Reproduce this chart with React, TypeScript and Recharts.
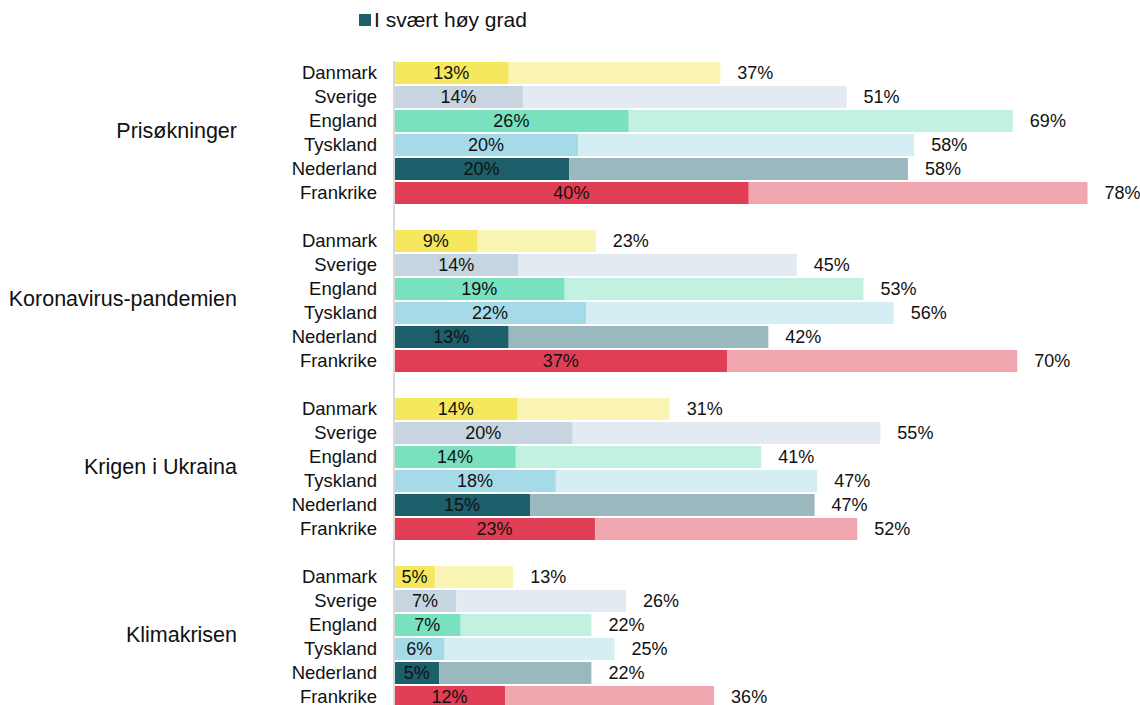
import React from 'react';
import { BarChart, Bar, XAxis, YAxis, Cell, LabelList, Legend } from 'recharts';

// ---- Data ----
const groups = ['Prisøkninger', 'Koronavirus-pandemien', 'Krigen i Ukraina', 'Klimakrisen'];
const countries = ['Danmark', 'Sverige', 'England', 'Tyskland', 'Nederland', 'Frankrike'];

// "I svært høy grad" share (bar length) per group, country order as above
const highPrisokninger = [12.9, 14.5, 26.4, 20.7, 19.7, 39.9];
const highKorona = [9.4, 14.0, 19.2, 21.6, 12.9, 37.5];
const highKrigen = [13.9, 20.1, 13.7, 18.2, 15.3, 22.6];
const highKlima = [4.6, 7.0, 7.5, 5.7, 5.1, 12.5];

// Total share (end of the whole bar) per group
const totalPrisokninger = [36.7, 50.9, 69.6, 58.5, 57.8, 78.0];
const totalKorona = [22.7, 45.3, 52.8, 56.2, 42.1, 70.1];
const totalKrigen = [31.0, 54.7, 41.3, 47.6, 47.3, 52.1];
const totalKlima = [13.4, 26.1, 22.2, 24.8, 22.2, 36.0];

// Printed labels
const highLabelsPrisokninger = [13, 14, 26, 20, 20, 40];
const highLabelsKorona = [9, 14, 19, 22, 13, 37];
const highLabelsKrigen = [14, 20, 14, 18, 15, 23];
const highLabelsKlima = [5, 7, 7, 6, 5, 12];

const totalLabelsPrisokninger = [37, 51, 69, 58, 58, 78];
const totalLabelsKorona = [23, 45, 53, 56, 42, 70];
const totalLabelsKrigen = [31, 55, 41, 47, 47, 52];
const totalLabelsKlima = [13, 26, 22, 25, 22, 36];

const legendLabel = 'I svært høy grad';

// ---- Styles ----
const darkColors = ['#f5e85e', '#c6d5e0', '#79e1c0', '#a5dbe8', '#1d5e6b', '#e03e54'];
const lightColors = ['#faf5b5', '#e3eaf1', '#c3f1e1', '#d4eef4', '#9bb8bf', '#f1a7b0'];
const FONT = '"Liberation Sans", Arial, sans-serif';
const TEXT = '#111';

const highAll = [highPrisokninger, highKorona, highKrigen, highKlima];
const totalAll = [totalPrisokninger, totalKorona, totalKrigen, totalKlima];
const highLabelsAll = [highLabelsPrisokninger, highLabelsKorona, highLabelsKrigen, highLabelsKlima];
const totalLabelsAll = [totalLabelsPrisokninger, totalLabelsKorona, totalLabelsKrigen, totalLabelsKlima];

type Row = {
  key: string;
  country: string;
  group: string;
  ci: number;
  high: number | null;
  rest: number | null;
  highLabel: number | null;
  totalLabel: number | null;
};

const rows: Row[] = [];
groups.forEach((g, gi) => {
  if (gi > 0) {
    rows.push({ key: `gap${gi}`, country: '', group: '', ci: -1, high: null, rest: null, highLabel: null, totalLabel: null });
  }
  countries.forEach((c, ci) => {
    const h = highAll[gi][ci];
    const t = totalAll[gi][ci];
    rows.push({
      key: `${gi}-${ci}`,
      country: c,
      group: ci === 2 ? g : '',
      ci,
      high: h,
      rest: t - h,
      highLabel: highLabelsAll[gi][ci],
      totalLabel: totalLabelsAll[gi][ci],
    });
  });
});

const rowByKey: Record<string, Row> = {};
rows.forEach((r) => (rowByKey[r.key] = r));

const CountryTick = (props: any) => {
  const { y, payload } = props;
  const row = rowByKey[payload.value];
  if (!row || !row.country) return null;
  return (
    <g>
      <text x={377} y={y} dy="0.35em" textAnchor="end" fontSize={18.5} fontFamily={FONT} fill={TEXT}>
        {row.country}
      </text>
      {row.group ? (
        <text x={237} y={y + 9} dy="0.35em" textAnchor="end" fontSize={21.5} fontFamily={FONT} fill={TEXT}>
          {row.group}
        </text>
      ) : null}
    </g>
  );
};

const InsideLabel = (props: any) => {
  const { x, y, width, height, value } = props;
  if (value === null || value === undefined || value === '') return null;
  return (
    <text x={x + width / 2} y={y + height / 2} dy="0.35em" textAnchor="middle" fontSize={18} fontFamily={FONT} fill={TEXT}>
      {value}%
    </text>
  );
};

const EndLabel = (props: any) => {
  const { x, y, width, height, value } = props;
  if (value === null || value === undefined || value === '') return null;
  return (
    <text x={x + width + 17} y={y + height / 2} dy="0.35em" textAnchor="start" fontSize={18} fontFamily={FONT} fill={TEXT}>
      {value}%
    </text>
  );
};

const LegendContent = () => (
  <div style={{ display: 'flex', alignItems: 'center', fontFamily: FONT, fontSize: 21, color: TEXT, whiteSpace: 'nowrap' }}>
    <span style={{ display: 'inline-block', width: 12, height: 12, background: darkColors[4], marginRight: 3 }} />
    <span>{legendLabel}</span>
  </div>
);

export default function App() {
  return (
    <div style={{ position: 'absolute', left: 0, top: 0, width: 1140, height: 705, overflow: 'hidden', background: '#fff' }}>
      <BarChart
        width={1140}
        height={710}
        data={rows}
        layout="vertical"
        margin={{ top: 61, right: 8, bottom: 1, left: 0 }}
        barSize={22}
      >
        <XAxis type="number" domain={[0, 83]} hide />
        <YAxis
          type="category"
          dataKey="key"
          width={394}
          interval={0}
          tickLine={false}
          axisLine={{ stroke: '#d9d9d9', strokeWidth: 2 }}
          tick={<CountryTick />}
        />
        <Legend
          layout="horizontal"
          verticalAlign="middle"
          align="center"
          wrapperStyle={{ top: 8, left: 359, width: 'auto' }}
          content={<LegendContent />}
        />
        <Bar dataKey="high" stackId="a" isAnimationActive={false} name={legendLabel}>
          {rows.map((r) => (
            <Cell key={r.key} fill={r.ci >= 0 ? darkColors[r.ci] : 'transparent'} />
          ))}
          <LabelList dataKey="highLabel" content={<InsideLabel />} />
        </Bar>
        <Bar dataKey="rest" stackId="a" isAnimationActive={false} legendType="none">
          {rows.map((r) => (
            <Cell key={r.key} fill={r.ci >= 0 ? lightColors[r.ci] : 'transparent'} />
          ))}
          <LabelList dataKey="totalLabel" content={<EndLabel />} />
        </Bar>
      </BarChart>
    </div>
  );
}
